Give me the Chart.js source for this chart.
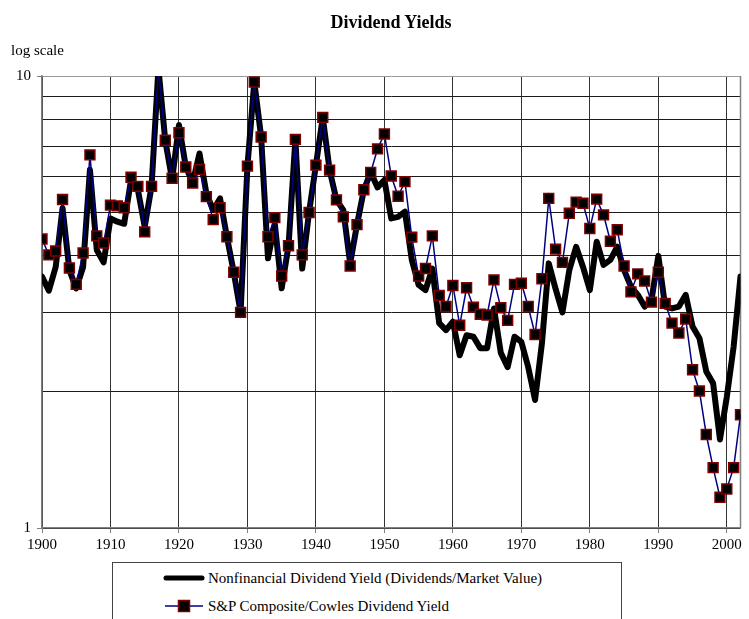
<!DOCTYPE html>
<html>
<head>
<meta charset="utf-8">
<script src="https://cdn.jsdelivr.net/npm/chart.js@4/dist/chart.umd.min.js"></script>
<style>
  html, body { margin: 0; padding: 0; background: #fff; }
  #wrap { position: relative; width: 749px; height: 619px; overflow: hidden; font-family: "Liberation Serif", "Times New Roman", serif; }
  #chart { position: absolute; left: 0; top: 0; }
  #title { position: absolute; left: 0; width: 782px; top: 11px; text-align: center; font-weight: bold; font-size: 18px; line-height: 22px; }
  #note { position: absolute; left: 11px; top: 41px; font-size: 15px; line-height: 18px; }
  #legend { position: absolute; left: 112px; top: 562px; width: 508px; height: 70px; border: 1px solid #444; background: #fff; }
  .row { position: absolute; left: 0; height: 20px; font-size: 15px; line-height: 20px; white-space: nowrap; }
  .row svg { position: absolute; left: 50px; top: 0; }
  .row span { position: absolute; left: 95px; top: 0; }
</style>
</head>
<body>
<div id="wrap">
  <canvas id="chart" width="749" height="619"></canvas>
  <div id="title">Dividend Yields</div>
  <div id="note">log scale</div>
  <div id="legend">
    <div class="row" style="top:5px">
      <svg width="42" height="20"><line x1="3" y1="10" x2="39" y2="10" stroke="#000" stroke-width="5" stroke-linecap="round"/></svg>
      <span id="lab0"></span>
    </div>
    <div class="row" style="top:33px">
      <svg width="42" height="20"><line x1="2" y1="10" x2="40" y2="10" stroke="#000080" stroke-width="1.5"/><rect x="15.5" y="4.5" width="11" height="11" fill="#000" stroke="#800000" stroke-width="1.5"/></svg>
      <span id="lab1"></span>
    </div>
  </div>
</div>
<script>
const seriesNames = [
  'Nonfinancial Dividend Yield (Dividends/Market Value)',
  'S&P Composite/Cowles Dividend Yield'
];

const years = [
  1900, 1901, 1902, 1903, 1904, 1905, 1906, 1907, 1908, 1909,
  1910, 1911, 1912, 1913, 1914, 1915, 1916, 1917, 1918, 1919,
  1920, 1921, 1922, 1923, 1924, 1925, 1926, 1927, 1928, 1929,
  1930, 1931, 1932, 1933, 1934, 1935, 1936, 1937, 1938, 1939,
  1940, 1941, 1942, 1943, 1944, 1945, 1946, 1947, 1948, 1949,
  1950, 1951, 1952, 1953, 1954, 1955, 1956, 1957, 1958, 1959,
  1960, 1961, 1962, 1963, 1964, 1965, 1966, 1967, 1968, 1969,
  1970, 1971, 1972, 1973, 1974, 1975, 1976, 1977, 1978, 1979,
  1980, 1981, 1982, 1983, 1984, 1985, 1986, 1987, 1988, 1989,
  1990, 1991, 1992, 1993, 1994, 1995, 1996, 1997, 1998, 1999,
  2000, 2001, 2002
];

// Nonfinancial dividend yield (thick black line)
const nonfinancial = [
  3.60, 3.35, 3.78, 5.10, 3.72, 3.39, 3.78, 6.20, 4.12, 3.87,
  4.84, 4.76, 4.71, 5.89, 5.60, 4.64, 5.70, 10.4, 7.20, 5.90,
  7.79, 6.30, 5.80, 6.74, 5.50, 5.05, 5.36, 4.41, 3.68, 3.00,
  6.32, 9.70, 7.33, 3.95, 4.70, 3.39, 4.21, 7.24, 3.75, 5.00,
  6.35, 8.10, 6.19, 5.32, 5.05, 3.85, 4.69, 5.60, 6.12, 5.67,
  5.89, 4.84, 4.88, 5.01, 3.92, 3.45, 3.36, 3.75, 2.84, 2.74,
  2.86, 2.41, 2.67, 2.65, 2.50, 2.50, 3.06, 2.44, 2.27, 2.65,
  2.58, 2.27, 1.92, 2.56, 3.85, 3.38, 3.00, 3.72, 4.19, 3.78,
  3.36, 4.30, 3.82, 3.92, 4.19, 3.72, 3.42, 3.28, 3.09, 3.19,
  4.00, 3.09, 3.06, 3.09, 3.28, 2.79, 2.63, 2.22, 2.09, 1.57,
  1.95, 2.52, 3.60
];

// S&P Composite / Cowles dividend yield (navy line, square markers)
const spCowles = [
  4.36, 4.02, 4.10, 5.33, 3.76, 3.46, 4.06, 6.69, 4.43, 4.27,
  5.18, 5.16, 5.11, 5.97, 5.70, 4.52, 5.70, 10.4, 7.21, 5.94,
  7.49, 6.29, 5.80, 6.21, 5.41, 4.81, 5.11, 4.41, 3.68, 3.00,
  6.32, 9.70, 7.33, 4.41, 4.86, 3.61, 4.21, 7.24, 4.02, 4.99,
  6.35, 8.10, 6.19, 5.32, 4.88, 3.80, 4.69, 5.60, 6.12, 6.90,
  7.44, 6.01, 5.42, 5.84, 4.40, 3.61, 3.75, 4.43, 3.27, 3.09,
  3.44, 2.81, 3.40, 3.08, 2.97, 2.96, 3.54, 3.07, 2.88, 3.46,
  3.48, 3.09, 2.68, 3.56, 5.36, 4.14, 3.87, 4.97, 5.26, 5.23,
  4.60, 5.34, 4.93, 4.31, 4.57, 3.80, 3.33, 3.65, 3.52, 3.16,
  3.68, 3.14, 2.84, 2.70, 2.90, 2.24, 2.01, 1.61, 1.36, 1.17,
  1.22, 1.36, 1.78
];

// gridlines of the log axis, and the two that carry a label
const yGrid = [1, 2, 3, 4, 5, 6, 7, 8, 9, 10];
const yLabels = [1, 10];

document.getElementById('lab0').textContent = seriesNames[0];
document.getElementById('lab1').textContent = seriesNames[1];

const toPoints = vals => years.map((yr, i) => ({ x: yr, y: vals[i] }));

// right-hand edge of the plot area
const plotFrame = {
  id: 'plotFrame',
  beforeDatasetsDraw(chart) {
    const a = chart.chartArea;
    const ctx = chart.ctx;
    ctx.save();
    ctx.strokeStyle = '#808080';
    ctx.lineWidth = 1.5;
    ctx.beginPath();
    ctx.moveTo(a.right, a.top);
    ctx.lineTo(a.right, a.bottom);
    ctx.stroke();
    ctx.restore();
  }
};

const serif = '"Liberation Serif", "Times New Roman", serif';

new Chart(document.getElementById('chart'), {
  type: 'line',
  data: {
    datasets: [
      {
        label: seriesNames[0],
        data: toPoints(nonfinancial),
        borderColor: '#000',
        borderWidth: 6,
        borderJoinStyle: 'round',
        borderCapStyle: 'round',
        pointRadius: 0,
        tension: 0,
        order: 2
      },
      {
        label: seriesNames[1],
        data: toPoints(spCowles),
        borderColor: '#000080',
        borderWidth: 1.5,
        pointStyle: 'rect',
        pointRadius: ctx => (ctx.raw && ctx.raw.y > 10 ? 0 : 7),
        pointBackgroundColor: '#000',
        pointBorderColor: '#800000',
        pointBorderWidth: 1.5,
        tension: 0,
        order: 1
      }
    ]
  },
  options: {
    responsive: false,
    animation: false,
    devicePixelRatio: 1,
    layout: { padding: { left: 0, top: 76, right: 2, bottom: 51 } },
    plugins: {
      legend: { display: false },
      tooltip: { enabled: false }
    },
    scales: {
      x: {
        type: 'linear',
        min: 1900,
        max: 2002,
        ticks: {
          stepSize: 10,
          includeBounds: false,
          maxRotation: 0,
          autoSkip: false,
          padding: 3,
          color: '#000',
          font: { family: serif, size: 15 },
          callback: v => String(v)
        },
        grid: { color: '#333', tickColor: '#808080', tickLength: 5 },
        border: { color: '#808080', width: 1.5 },
        afterFit: s => { s.height = 40; s.paddingLeft = 0; s.paddingRight = 0; }
      },
      y: {
        type: 'logarithmic',
        min: 1,
        max: 10,
        afterBuildTicks: s => { s.ticks = yGrid.map(v => ({ value: v, major: false })); },
        ticks: {
          autoSkip: false,
          padding: 6,
          color: '#000',
          font: { family: serif, size: 15 },
          callback: v => (yLabels.includes(v) ? String(v) : '')
        },
        grid: {
          color: ctx => (ctx.tick && ctx.tick.value === 10 ? '#999' : '#1a1a1a'),
          tickColor: ctx => (ctx.tick && yLabels.includes(ctx.tick.value) ? '#808080' : 'rgba(0,0,0,0)'),
          tickLength: 5
        },
        border: { color: '#808080', width: 1.5 },
        afterFit: s => { s.width = 42; s.paddingTop = 0; s.paddingBottom = 0; }
      }
    }
  },
  plugins: [plotFrame]
});
</script>
</body>
</html>
